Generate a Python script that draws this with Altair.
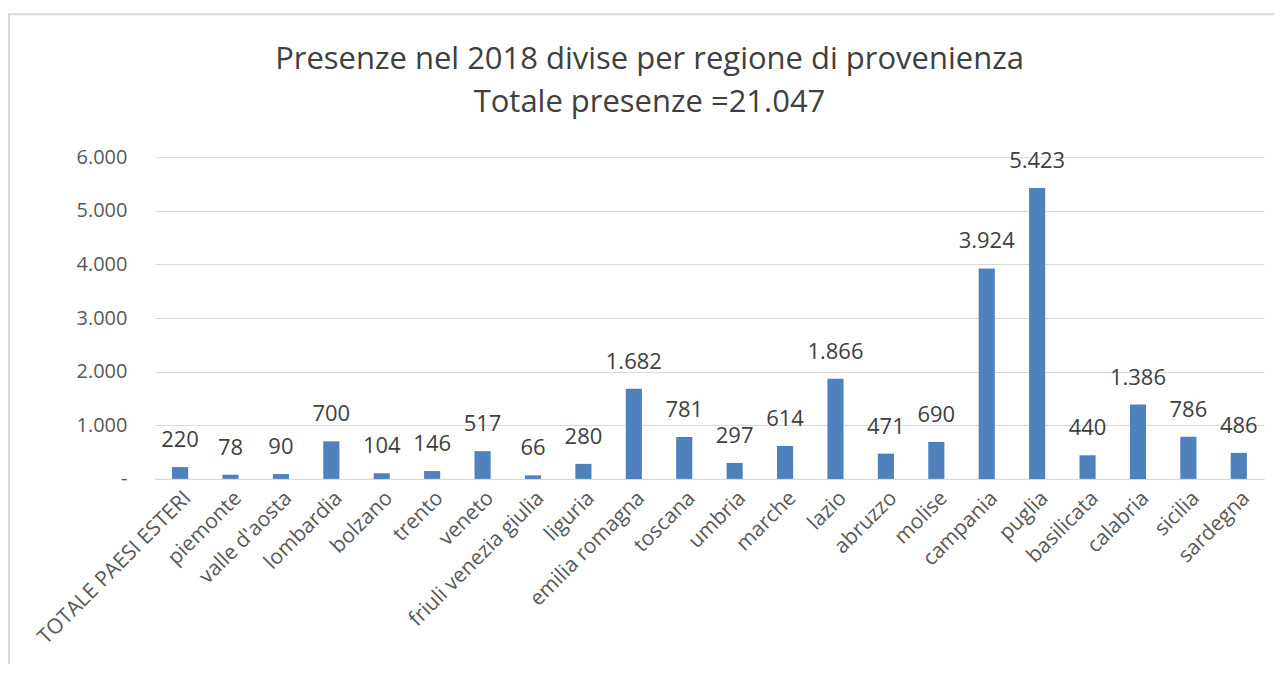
import altair as alt
import pandas as pd

regions = ["TOTALE PAESI ESTERI", "piemonte", "valle d'aosta", "lombardia", "bolzano",
           "trento", "veneto", "friuli venezia giulia", "liguria", "emilia romagna",
           "toscana", "umbria", "marche", "lazio", "abruzzo", "molise", "campania",
           "puglia", "basilicata", "calabria", "sicilia", "sardegna"]
presenze = [220, 78, 90, 700, 104, 146, 517, 66, 280, 1682, 781, 297, 614, 1866,
            471, 690, 3924, 5423, 440, 1386, 786, 486]
y_ticks = [0, 1000, 2000, 3000, 4000, 5000, 6000]

df = pd.DataFrame({"regione": regions, "presenze": presenze})

FONT = "Open Sans"
base = alt.Chart(df).encode(
    x=alt.X("regione:N", sort=regions, title=None,
            scale=alt.Scale(paddingInner=0.68, paddingOuter=0.34),
            axis=alt.Axis(labelAngle=-45, labelFontSize=21, labelColor="#595959",
                          labelFont=FONT, ticks=False, domainColor="#d9d9d9",
                          labelPadding=8, labelLimit=400)),
    y=alt.Y("presenze:Q", title=None,
            scale=alt.Scale(domain=[0, 6000], nice=False),
            axis=alt.Axis(values=y_ticks, labelFontSize=20, labelColor="#595959",
                          labelFont=FONT, ticks=False, domain=False,
                          gridColor="#d9d9d9", labelPadding=28,
                          labelExpr="datum.value == 0 ? '-' : replace(format(datum.value, ','), ',', '.')")),
)

bars = base.mark_bar(color="#4F81BD")
labels = base.transform_calculate(
    lab="replace(format(datum.presenze, ','), ',', '.')"
).mark_text(baseline="bottom", dy=-15, fontSize=22, font=FONT, color="#404040").encode(
    text="lab:N")

frame = alt.Chart(pd.DataFrame({"f": [0]})).mark_rect(
    fill=None, stroke="#d9d9d9", strokeWidth=2
).encode(x=alt.value(-146), y=alt.value(-143), x2=alt.value(1140), y2=alt.value(530))

chart = alt.layer(frame, bars, labels).properties(
    width=1110, height=322,
    autosize=alt.AutoSizeParams(type="none"),
    padding={"left": 147, "top": 149, "right": 10, "bottom": 185},
    title=alt.TitleParams(
        text=["Presenze nel 2018 divise per regione di provenienza", "Totale presenze =21.047"],
        fontSize=31, font=FONT, fontWeight="normal", color="#404040",
        anchor="middle", dx=-60, dy=132, offset=26, lineHeight=43),
).configure_view(stroke=None)

chart.save("out.html", embed_options={"renderer": "svg", "actions": False})
